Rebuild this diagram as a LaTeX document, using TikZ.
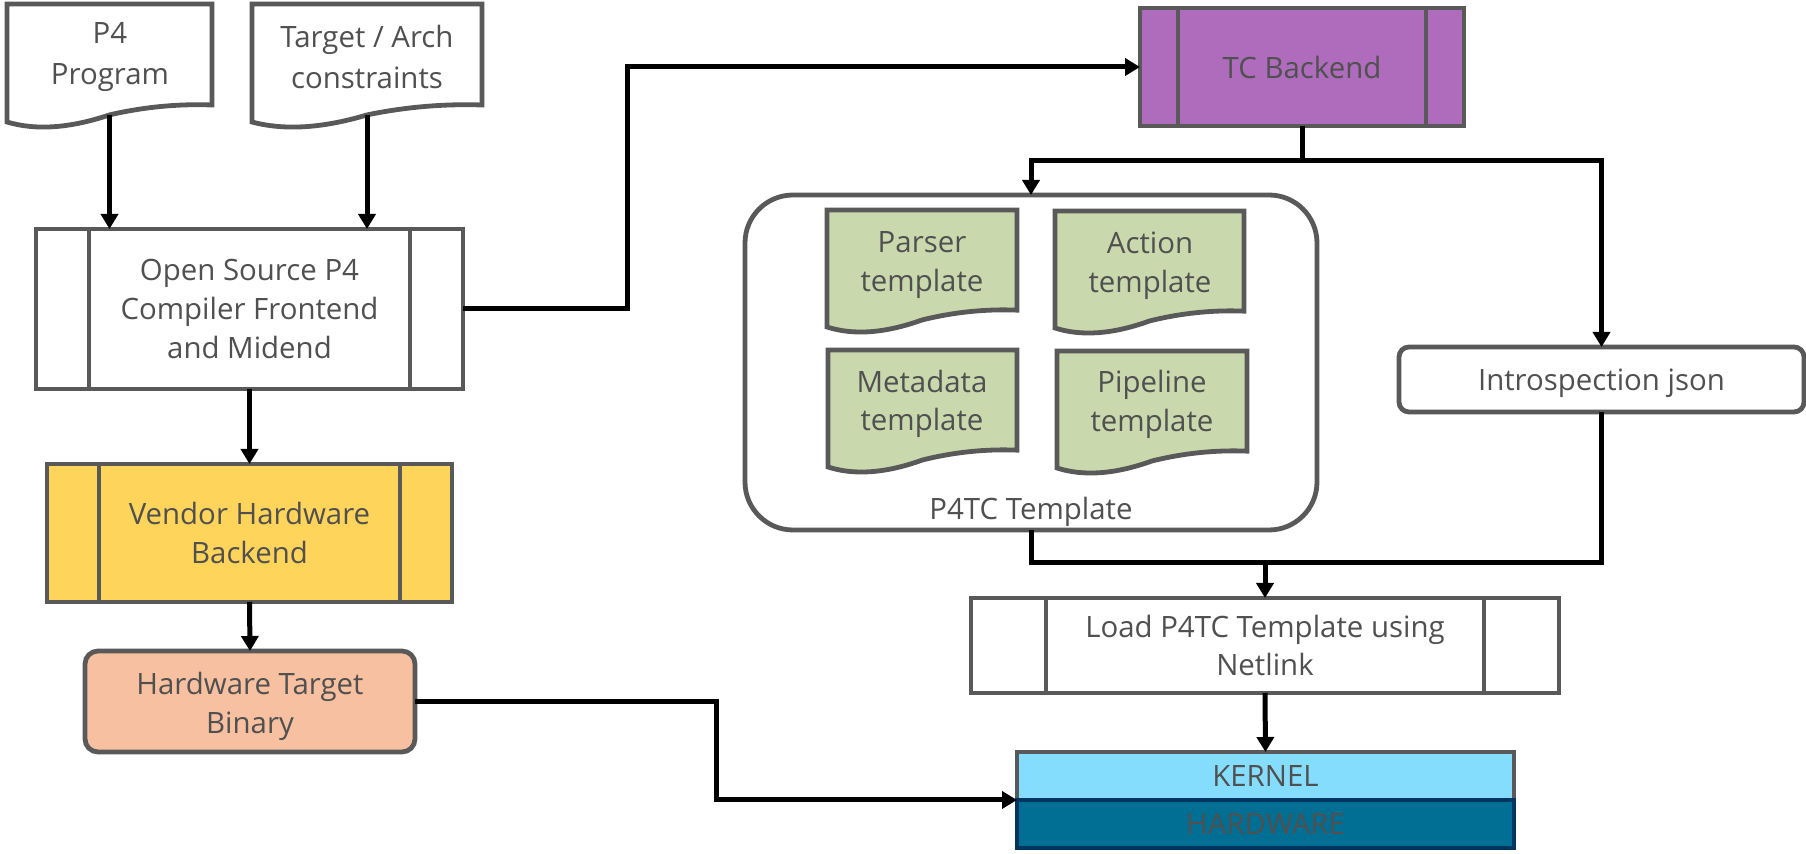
\documentclass[tikz,border=0pt]{standalone}
\usepackage{fontspec}
\setmainfont{Open Sans}
\usetikzlibrary{calc,arrows.meta}
\definecolor{bordergray}{HTML}{595959}
\definecolor{txtgray}{HTML}{505050}
\definecolor{tcpurple}{HTML}{AF6CBD}
\definecolor{vendyellow}{HTML}{FFD45A}
\definecolor{binsalmon}{HTML}{F7C0A0}
\definecolor{tmplgreen}{HTML}{CAD8AD}
\definecolor{kernblue}{HTML}{85DDFD}
\definecolor{hwblue}{HTML}{016E94}
\definecolor{hwborder}{HTML}{00355F}
\newcommand{\lblfont}{\fontsize{14.7}{19.3}\selectfont}
\tikzset{
  base/.style={draw=bordergray, line width=2.4pt, text=txtgray, align=center,
    font=\lblfont, inner sep=0pt, outer sep=0pt, rectangle},
  docbox/.style={rectangle, inner sep=0pt, outer sep=0pt, draw=none},
  txt/.style={text=txtgray, align=center, font=\lblfont, inner sep=0pt},
  shapeline/.style={draw=bordergray, line width=2.4pt, line join=miter},
  conn/.style={draw=black, line width=2.5pt},
  arr/.style={conn, -{Triangle[length=7.5pt,width=8.5pt]}},
}
\newcommand{\procbars}[2]{%
  \draw[shapeline] ($(#1.north west)+(#2,0)$) -- ($(#1.south west)+(#2,0)$)
                   ($(#1.north east)+(-#2,0)$) -- ($(#1.south east)+(-#2,0)$);}
\newcommand{\docshape}[2]{%
  \draw[shapeline, fill=#2] let \p1=(#1.north west), \p2=(#1.south east),
    \n1={\x2-\x1}, \n2={\y1-\y2} in
    (\x1,\y1) -- (\x2,\y1) -- (\x2,{\y1-0.856*\n2})
    .. controls ({\x1+0.833*\n1},{\y1-0.845*\n2}) and ({\x1+0.667*\n1},{\y1-0.873*\n2}) ..
    ({\x1+0.5*\n1},{\y1-0.94*\n2})
    .. controls ({\x1+0.307*\n1},{\y1-1.053*\n2}) and ({\x1+0.14*\n1},{\y1-1.073*\n2}) ..
    (\x1,\y2) -- cycle;}
\begin{document}
\begin{tikzpicture}[x=0.5pt,y=-0.5pt]
\useasboundingbox (0,0) rectangle (1806,854);

% document shapes (outline nodes)
\node[docbox, minimum width=102.5pt, minimum height=59pt] (p4) at (109.5,63) {};
\node[docbox, minimum width=115pt, minimum height=59pt] (tgt) at (367,63) {};
\docshape{p4}{white}
\docshape{tgt}{white}
\node[txt, font=\fontsize{14.7}{20.5}\selectfont] (p4t) at (110,57) {P4\\Program};
\node[txt, font=\fontsize{14.7}{20.5}\selectfont] (tgtt) at (367,57) {Target / Arch\\constraints};

% left column
\node[base, fill=white, minimum width=213.5pt, minimum height=80pt] (osp) at (249.5,309)
  {Open Source P4\\Compiler Frontend\\and Midend};
\procbars{osp}{53}
\node[base, fill=vendyellow, minimum width=202.5pt, minimum height=69pt] (vendor) at (249.5,533)
  {Vendor Hardware\\Backend};
\procbars{vendor}{52}
\node[base, fill=binsalmon, rounded corners=6.5pt, minimum width=165pt, minimum height=50.5pt] (binary) at (250,701.5) {};
\node[txt] (binaryt) at ($(binary)+(0,5)$) {Hardware Target\\Binary};

% TC backend
\node[base, fill=tcpurple, minimum width=162pt, minimum height=59pt] (tcb) at (1302,67) {TC Backend};
\procbars{tcb}{38}

% P4TC template container
\node[base, fill=white, rounded corners=24pt, minimum width=286pt, minimum height=167.5pt] (p4tc) at (1031,362.5) {};
\node[txt] (p4tcl) at ($(p4tc.south)+(0,-18)$) {P4TC Template};

\node[docbox, minimum width=95pt, minimum height=58.5pt] (parser) at (922,268.5) {};
\node[docbox, minimum width=94.5pt, minimum height=58.5pt] (action) at (1149.5,269.5) {};
\node[docbox, minimum width=94.5pt, minimum height=58.5pt] (meta) at (922.5,408.5) {};
\node[docbox, minimum width=95pt, minimum height=58.5pt] (pipe) at (1152,409.5) {};
\docshape{parser}{tmplgreen}
\docshape{action}{tmplgreen}
\docshape{meta}{tmplgreen}
\docshape{pipe}{tmplgreen}
\node[txt] (parsert) at (922,265) {Parser\\template};
\node[txt] (actiont) at (1150,265.5) {Action\\template};
\node[txt] (metat) at (922,404) {Metadata\\template};
\node[txt] (pipet) at (1152,404.5) {Pipeline\\template};

% introspection
\node[base, fill=white, rounded corners=5pt, minimum width=202.5pt, minimum height=32.5pt, text depth=0pt] (intro) at (1601.5,379.5)
  {Introspection json};

% load
\node[base, fill=white, minimum width=294pt, minimum height=47.5pt] (load) at (1265,645.5)
  {Load P4TC Template using\\Netlink};
\procbars{load}{75}

% kernel / hardware
\node[base, fill=kernblue, minimum width=248.5pt, minimum height=24pt] (kernel) at (1265.5,776) {KERNEL};
\node[base, draw=hwborder, fill=hwblue, minimum width=248.5pt, minimum height=24pt] (hardware) at (1265.5,824) {HARDWARE};

% connectors
\draw[arr] ($(p4.north)!0.94!(p4.south)$) -- (p4.south |- osp.north);
\draw[arr] ($(tgt.north)!0.94!(tgt.south)$) -- (tgt.south |- osp.north);
\draw[arr] (osp.south) -- (vendor.north);
\draw[arr] (vendor.south) -- (binary.north);
\draw[arr] (osp.east) -- ++(164,0) |- (tcb.west);

\coordinate (split) at ($(tcb.south)+(0,35)$);
\draw[conn] (tcb.south) -- (split);
\draw[arr] (split) -| (p4tc.north);
\draw[arr] (split) -| (intro.north);

\coordinate (merge) at ($(p4tc.south)+(0,33)$);
\draw[conn] (p4tc.south) -- (merge) -- (merge -| intro.south) -- (intro.south);
\draw[arr] (merge -| load.north) -- (load.north);

\draw[arr] (load.south) -- (kernel.north);
\draw[arr] (binary.east) -- ++(301,0) |- (hardware.north west);
\end{tikzpicture}
\end{document}
